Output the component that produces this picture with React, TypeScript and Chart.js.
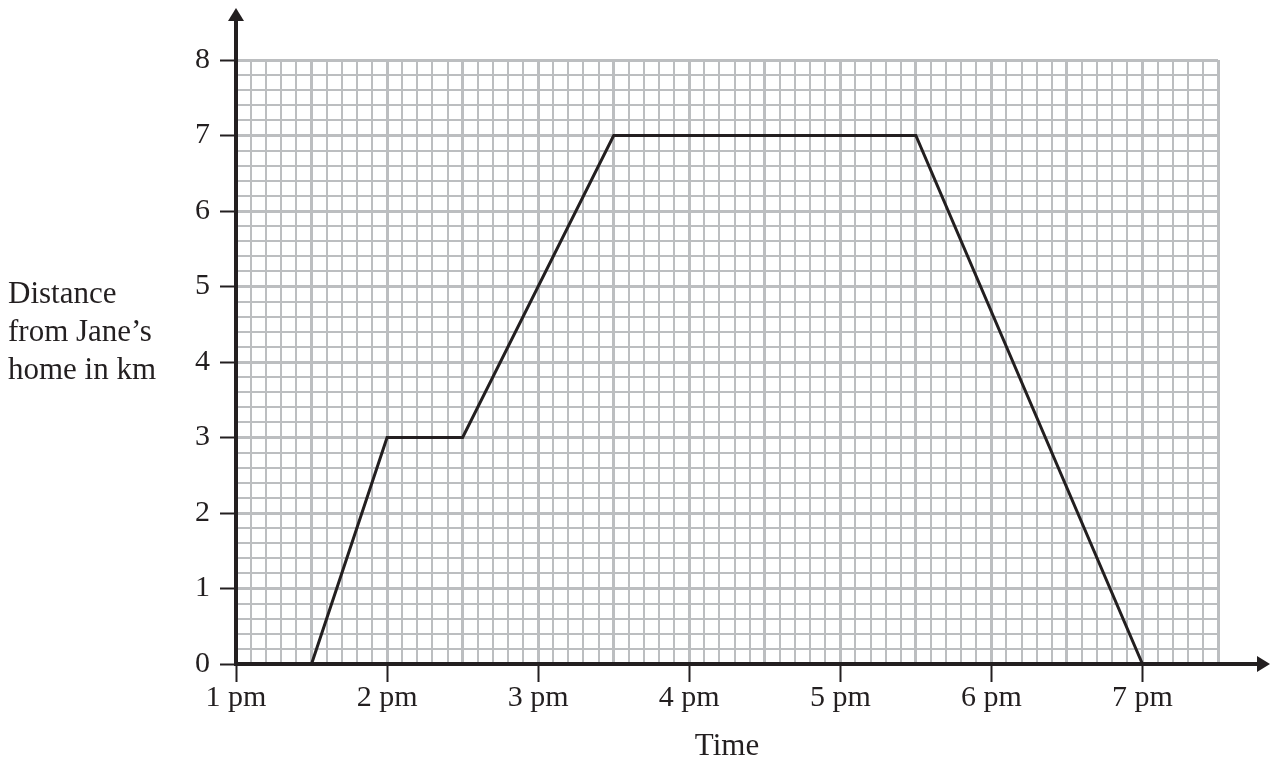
import React, { useEffect, useRef } from 'react';
import { Chart, registerables } from 'chart.js';

Chart.register(...registerables);

// Data
const timeHours = [1.5, 2, 2.5, 3.5, 5.5, 7]; // hours after noon
const distanceKm = [0, 3, 3, 7, 7, 0];
const xTickLabels = ['1 pm', '2 pm', '3 pm', '4 pm', '5 pm', '6 pm', '7 pm'];
const yTickLabels = ['0', '1', '2', '3', '4', '5', '6', '7', '8'];
const yTitleLines = ['Distance', 'from Jane\u2019s', 'home in km'];
const xTitle = 'Time';

const X_MIN = 1;
const X_MAX = 7.5;
const Y_MIN = 0;
const Y_MAX = 8;

const INK = '#231f20';
const GRID = '#bcbec0';
const FONT = '"Liberation Serif", "Times New Roman", Times, serif';

const near = (v: number, step: number) => Math.abs(v / step - Math.round(v / step)) < 1e-6;

const axesPlugin = {
  id: 'axesArrows',
  afterDatasetsDraw(chart: any) {
    const { ctx, chartArea } = chart;
    const { left, right, top, bottom } = chartArea;
    const yTip = top - 52;
    const xTip = right + 52;
    ctx.save();
    ctx.strokeStyle = INK;
    ctx.fillStyle = INK;
    ctx.lineWidth = 4;
    ctx.lineCap = 'butt';
    // y axis
    ctx.beginPath();
    ctx.moveTo(left, bottom + 2);
    ctx.lineTo(left, yTip + 12);
    ctx.stroke();
    ctx.beginPath();
    ctx.moveTo(left, yTip);
    ctx.lineTo(left - 8, yTip + 13);
    ctx.lineTo(left + 8, yTip + 13);
    ctx.closePath();
    ctx.fill();
    // x axis
    ctx.beginPath();
    ctx.moveTo(left - 2, bottom);
    ctx.lineTo(xTip - 12, bottom);
    ctx.stroke();
    ctx.beginPath();
    ctx.moveTo(xTip, bottom);
    ctx.lineTo(xTip - 13, bottom - 8);
    ctx.lineTo(xTip - 13, bottom + 8);
    ctx.closePath();
    ctx.fill();
    ctx.restore();
  },
};

export default function App() {
  const canvasRef = useRef<HTMLCanvasElement | null>(null);

  useEffect(() => {
    if (!canvasRef.current) return;
    const chart = new Chart(canvasRef.current, {
      type: 'line',
      data: {
        datasets: [
          {
            data: timeHours.map((t, i) => ({ x: t, y: distanceKm[i] })),
            borderColor: INK,
            borderWidth: 3,
            borderJoinStyle: 'miter',
            pointRadius: 0,
            tension: 0,
            fill: false,
          },
        ],
      },
      options: {
        animation: false,
        responsive: true,
        maintainAspectRatio: false,
        layout: { padding: { top: 60, right: 52, bottom: 0, left: 0 } },
        plugins: {
          legend: { display: false },
          tooltip: { enabled: false },
        },
        events: [],
        scales: {
          x: {
            type: 'linear',
            min: X_MIN,
            max: X_MAX,
            border: { display: false },
            grid: {
              color: GRID,
              lineWidth: (ctx: any) => (near(ctx.tick.value, 0.5) ? 3 : 2),
              drawTicks: true,
              tickLength: 18,
              tickWidth: 2,
              tickColor: (ctx: any) =>
                near(ctx.tick.value, 1) && ctx.tick.value <= 7 ? INK : 'rgba(0,0,0,0)',
            },
            ticks: {
              stepSize: 0.1,
              autoSkip: false,
              maxRotation: 0,
              minRotation: 0,
              padding: -2,
              color: INK,
              font: { family: FONT, size: 30 },
              callback: (v: any) => {
                const n = Number(v);
                return near(n, 1) ? xTickLabels[Math.round(n) - 1] ?? '' : '';
              },
            },
            title: {
              display: true,
              text: xTitle,
              color: INK,
              font: { family: FONT, size: 31 },
              padding: { top: 0, bottom: 0 },
            },
            afterFit: (s: any) => {
              s.height = 101;
            },
          },
          y: {
            type: 'linear',
            min: Y_MIN,
            max: Y_MAX,
            border: { display: false },
            grid: {
              color: GRID,
              lineWidth: (ctx: any) => (near(ctx.tick.value, 1) ? 3 : 2),
              drawTicks: true,
              tickLength: 16,
              tickWidth: 2,
              tickColor: (ctx: any) => (near(ctx.tick.value, 1) ? INK : 'rgba(0,0,0,0)'),
            },
            ticks: {
              stepSize: 0.2,
              autoSkip: false,
              padding: 10,
              color: INK,
              font: { family: FONT, size: 30 },
              callback: (v: any) => {
                const n = Number(v);
                return near(n, 1) ? yTickLabels[Math.round(n)] ?? '' : '';
              },
            },
            afterFit: (s: any) => {
              s.width = 236;
            },
          },
        },
      },
      plugins: [axesPlugin],
    } as any);
    return () => chart.destroy();
  }, []);

  return (
    <div
      style={{
        position: 'fixed',
        left: 0,
        top: 0,
        width: 1270,
        height: 765,
        background: '#ffffff',
      }}
    >
      <canvas ref={canvasRef} />
      <div
        style={{
          position: 'absolute',
          left: 8,
          top: 274,
          fontFamily: FONT,
          fontSize: 31,
          lineHeight: '38px',
          color: INK,
          whiteSpace: 'nowrap',
        }}
      >
        {yTitleLines.map((l) => (
          <div key={l}>{l}</div>
        ))}
      </div>
    </div>
  );
}
